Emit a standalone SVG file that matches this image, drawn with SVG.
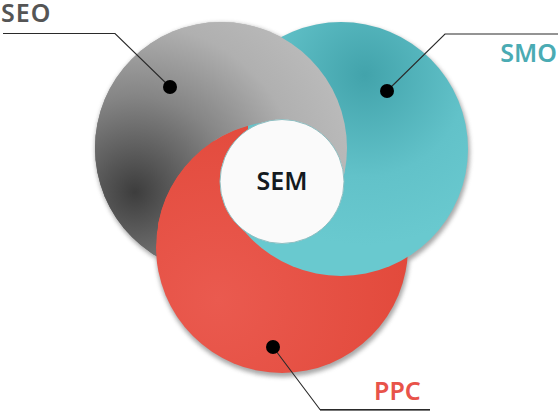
<svg xmlns="http://www.w3.org/2000/svg" width="558" height="413" viewBox="0 0 558 413">
<style>
.lbl{font-family:"Noto Sans","Open Sans","Liberation Sans",sans-serif;font-weight:600;font-size:25px}
.ln{fill:none;stroke:#2a2a2a;stroke-width:1.1}
.dot{fill:#000}
</style>
<defs>
<radialGradient id="gGray" gradientUnits="userSpaceOnUse" cx="135" cy="192" r="240">
<stop offset="0" stop-color="#3d3d3d"/>
<stop offset="0.4" stop-color="#858585"/>
<stop offset="0.7" stop-color="#b0b0b0"/>
<stop offset="1" stop-color="#bdbdbd"/>
</radialGradient>
<radialGradient id="gTeal" gradientUnits="userSpaceOnUse" cx="365" cy="75" r="170">
<stop offset="0" stop-color="#42a3ab"/>
<stop offset="0.6" stop-color="#62c2c9"/>
<stop offset="1" stop-color="#69c9cf"/>
</radialGradient>
<radialGradient id="gRed" gradientUnits="userSpaceOnUse" cx="218" cy="300" r="200">
<stop offset="0" stop-color="#ea5a4f"/>
<stop offset="1" stop-color="#e2493b"/>
</radialGradient>
<filter id="sh" x="-20%" y="-20%" width="140%" height="140%">
<feGaussianBlur stdDeviation="2.2"/>
</filter>
<mask id="grayTop" maskUnits="userSpaceOnUse" x="0" y="0" width="558" height="413">
<rect x="0" y="0" width="558" height="413" fill="#fff"/>
<circle cx="282" cy="247" r="126" fill="#000"/>
<rect x="282" y="0" width="276" height="181" fill="#fff"/>
</mask>
<clipPath id="redSliver"><rect x="150" y="100" width="98" height="125"/></clipPath>
</defs>

<g id="shadow" filter="url(#sh)" fill="#8c8c8c" opacity="0.75">
<circle cx="222" cy="150" r="127"/>
<circle cx="342" cy="152" r="128"/>
<circle cx="283" cy="250" r="127"/>
</g>

<g id="node-seo">
<circle cx="221" cy="148" r="126" fill="url(#gGray)"/>
</g>
<g id="node-ppc">
<circle cx="282" cy="247" r="126" fill="url(#gRed)"/>
</g>
<g id="node-smo">
<circle cx="341" cy="149" r="127" fill="url(#gTeal)"/>
</g>
<g id="node-seo-front" mask="url(#grayTop)">
<circle cx="221" cy="148" r="126" fill="url(#gGray)"/>
</g>
<g id="node-ppc-front" clip-path="url(#redSliver)">
<circle cx="282" cy="247" r="126" fill="url(#gRed)"/>
</g>
<g id="node-sem">
<circle cx="282" cy="181.5" r="62" fill="#fafafa" stroke="#8fbfc2" stroke-width="1"/>
<text class="lbl" x="282" y="190" text-anchor="middle" fill="#141a1f">SEM</text>
</g>

<g id="connectors">
<polyline class="ln" points="3,33.5 115,33.5 170,87"/>
<polyline class="ln" points="558,34 445,34 387,91"/>
<polyline class="ln" points="273,347 320,409.5 430,409.5"/>
<line x1="320" y1="410.5" x2="430" y2="410.5" stroke="#777" stroke-width="1"/>
<circle class="dot" cx="170" cy="87" r="7"/>
<circle class="dot" cx="387" cy="91" r="7"/>
<circle class="dot" cx="273" cy="347" r="7"/>
</g>

<g id="labels">
<text class="lbl" x="1" y="21.5" fill="#555555" letter-spacing="1">SEO</text>
<text class="lbl" x="557" y="62" text-anchor="end" fill="#4aabb3">SMO</text>
<text class="lbl" x="374" y="400" fill="#e8534a">PPC</text>
</g>
</svg>
